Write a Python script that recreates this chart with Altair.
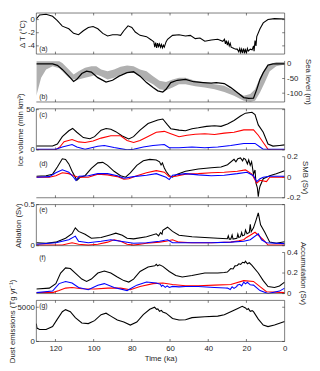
import altair as alt
import pandas as pd

# ---------------- data (time in ka) ----------------
dT = [(130, 0.1), (128.3, 0.7), (124.9, 0.8), (121.5, 0.5), (119, -0.15), (116.4, -1.0), (113, -1.4),
      (110.5, -2.1), (107.9, -2.3), (105.4, -1.7), (102.8, -1.2), (100.3, -1.05), (97.8, -1.4), (95.2, -2.1),
      (92.7, -2.5), (90.1, -2.3), (87.6, -2.3), (85.9, -2.4), (84.2, -1.7), (82, -0.95), (80, -1.2), (78.2, -1.9),
      (75.7, -2.4), (72.3, -2.6), (69.8, -3.1), (68.5, -3.4), (68, -4.2), (67.5, -3.5), (67, -4.3), (66.5, -3.6),
      (66, -4.1), (65.5, -3.7), (65, -4.2), (64.5, -3.8), (64, -4.3), (63.5, -3.9), (63, -4.2), (62.1, -3.4),
      (61.3, -3.0), (58.7, -2.4), (55.3, -2.3), (51.9, -2.5), (49.4, -2.4), (46.8, -2.9), (44.3, -2.8),
      (41.8, -3.3), (38.4, -3.1), (35, -3.0), (32.4, -3.3), (31.5, -3.0), (31, -3.7), (30.5, -3.2), (30, -3.9),
      (29.5, -3.4), (29, -4.0), (28.5, -3.6), (28, -4.2), (27.3, -4.3), (26.5, -4.4), (25.5, -4.5), (24.8, -4.5),
      (24, -4.9), (23.5, -4.4), (23, -5.0), (22.5, -4.5), (22, -5.1), (21.5, -4.4), (21, -5.0), (20.5, -4.6),
      (20, -5.1), (19.5, -4.4), (19, -4.8), (18, -4.5), (17, -4.6), (16.3, -4.0), (16, -4.8), (15.5, -3.2),
      (15, -4.0), (14.6, -2.6), (12.9, -1.4), (11.2, -0.5), (8.7, 0.0), (5.3, 0.15), (0, 0.1)]

sl_model = [(130, 0), (121.5, 0), (119, -5), (116.4, -19), (113, -42), (110.5, -60), (108.8, -53), (106.2, -33),
            (103.7, -25), (101.2, -28), (97.8, -47), (93.5, -62), (90.1, -56), (86.7, -42), (82.5, -30),
            (79.1, -27), (75.7, -42), (72.3, -64), (68.9, -81), (66.4, -92), (63.8, -96), (62.1, -87),
            (59.6, -64), (56.2, -56), (51.9, -53), (47.7, -61), (42.6, -64), (38.4, -66), (35.8, -64),
            (31.6, -67), (28.2, -81), (24.8, -98), (21.4, -115), (18.8, -118), (16.3, -117), (14.6, -87),
            (12.9, -53), (11.2, -30), (8.7, -4.5), (6.1, 0), (0, 0)]

sl_band = [(130, 9, -109), (127.5, 9, -47), (124.9, 9, -19), (121.5, 9, -8), (118, 9, -15), (116.4, 3, -25),
           (113, -19, -47), (110.5, -36, -53), (107.9, -25, -53), (104.5, -13, -47), (101.2, -8, -42),
           (98.6, -8, -36), (96.1, -19, -42), (92.7, -25, -53), (89.3, -19, -47), (85.9, -10, -36),
           (82.5, -6, -30), (79.1, -8, -30), (75.7, -19, -44), (72.3, -25, -58), (68.9, -42, -70),
           (65.5, -58, -87), (62.1, -62, -90), (58.7, -53, -81), (55.3, -47, -70), (51.9, -47, -70),
           (46.8, -58, -76), (41.8, -64, -81), (36.7, -70, -87), (31.6, -75, -96), (26.5, -92, -109),
           (21.4, -109, -126), (18, -103, -129), (15.5, -87, -126), (12.9, -47, -98), (10.4, -19, -64),
           (7.8, -2, -25), (4.4, 6, -8), (0, 6, -2)]

ice_total = [(130, 4.7), (121.5, 4.7), (119, 7.3), (116.4, 16.4), (113, 23.7), (111, 26.6), (108.8, 21.9),
             (105.4, 15.3), (102, 13.9), (99.5, 16.4), (96.1, 24.5), (93.5, 26.6), (91, 25.5), (88.4, 22.6),
             (85, 17.2), (81.6, 13.5), (79.1, 16.4), (75.7, 24.5), (71.5, 32.8), (66.4, 37.2), (63.8, 38.3),
             (61.3, 31), (59.6, 26.3), (55.3, 24.5), (51.9, 23.7), (48.5, 26.3), (45.2, 27.4), (40.9, 29.2),
             (36.7, 29.9), (33.3, 29.2), (29.9, 32.1), (26.5, 36.5), (23.1, 42), (20.5, 45.6), (17.1, 46.7),
             (15.5, 43.8), (13.8, 31), (11.2, 21.9), (8.7, 7.3), (6.1, 4.7), (2.7, 5.5), (0, 6.2)]
ice_red = [(130, 0), (120, 0), (117.7, 3.6), (115.5, 10.2), (111.3, 12.8), (107.9, 9.9), (104.5, 9.1),
           (100.3, 10.9), (96.1, 14.6), (91, 17.5), (85.9, 17.5), (82.5, 11.7), (79.1, 9.1), (75.7, 11.7),
           (72.3, 15.7), (67.2, 21.9), (63, 23), (59.6, 20), (55.3, 16.4), (51.1, 18.2), (46.8, 19.3),
           (41.8, 20), (36.7, 19), (31.6, 20.8), (26.5, 21.9), (21.4, 24.8), (16.3, 24.8), (13.8, 18.2),
           (11.2, 9.1), (8.7, 0.7), (7, 0), (0, 0)]
ice_blue = [(130, 0.7), (119.8, 0.7), (116.4, 3.6), (111.3, 6.6), (108.8, 3.6), (104.5, 0.7), (97.8, 4.4),
            (94.4, 5.5), (89.3, 2.9), (82.5, 0), (79.1, 0.7), (74, 3.6), (68.9, 5.5), (63, 6.6), (60.4, 2.6),
            (55.3, 2.6), (48.5, 3.6), (41.8, 2.6), (35, 3.6), (28.2, 5.5), (21.4, 8), (15.5, 8), (12.9, 3.6),
            (11.2, 0.7), (0, 0.7)]

smb_black = [(130, 0.01), (124.9, 0.015), (121.5, 0.03), (119, 0.1), (116.4, 0.18), (114.7, 0.174),
             (113, 0.13), (111.3, 0.058), (109.6, 0), (108.8, -0.03), (107.1, 0), (104.5, 0.015),
             (101.2, 0.087), (97.8, 0.14), (95.2, 0.145), (92.7, 0.116), (89.3, 0.058), (85.9, 0.015),
             (83.3, 0), (80.8, 0.043), (77.4, 0.116), (74, 0.16), (70.6, 0.174), (67.2, 0.168), (65.5, 0.15),
             (64.7, 0.12), (64, 0.14), (63, 0.09), (62.1, 0.058), (60.4, 0.015), (58.7, 0), (56.2, 0.03),
             (51.9, 0.058), (45.2, 0.081), (38.4, 0.093), (33.3, 0.1), (29.9, 0.122), (26.5, 0.174),
             (25.5, 0.15), (24.5, 0.18), (23.1, 0.188), (22, 0.16), (21.4, 0.185), (20.5, 0.174), (19.5, 0.13),
             (18.8, 0.17), (18, 0.116), (17.3, 0.15), (16.3, 0.03), (15.5, 0.07), (15, -0.058), (14.3, -0.1),
             (13.8, -0.19), (13.3, -0.12), (12.9, -0.087), (11.2, -0.014), (7.8, 0.015), (4.4, 0.035),
             (0, 0.064)]
smb_red = [(130, 0), (123.2, 0), (119.8, 0.015), (116.4, 0.043), (113, 0.035), (110.5, 0.015), (107.9, 0),
           (102.8, 0), (97.8, 0.03), (92.7, 0.023), (87.6, 0.006), (84.2, -0.02), (81.6, -0.014),
           (77.4, 0.015), (72.3, 0.043), (67.2, 0.064), (63, 0.049), (60.4, 0.006), (57, 0.009),
           (51.9, 0.03), (45.2, 0.035), (38.4, 0.043), (31.6, 0.049), (24.8, 0.058), (20.5, 0.072),
           (17.1, 0.03), (14.6, -0.058), (12.9, -0.03), (9.5, -0.043), (7.8, 0), (0, 0)]
smb_blue = [(130, 0), (123.2, 0.006), (119.8, 0.043), (116.4, 0.072), (113, 0.049), (110.5, 0),
            (109.3, -0.03), (107.6, 0.009), (102.8, 0.015), (97.8, 0.035), (92.7, 0.035), (87.6, 0.015),
            (84.2, -0.009), (79.1, 0.006), (72.3, 0.02), (67.2, 0.035), (62.1, 0), (60.4, -0.023),
            (58.7, 0.02), (51.9, 0.035), (45.2, 0.023), (38.4, 0.015), (31.6, 0.02), (24.8, 0.035),
            (19.7, 0.049), (16.3, 0.015), (14.6, -0.043), (12.9, -0.014), (11.2, 0), (7.8, 0.009), (0, 0.009)]

abl_black = [(130, 0.036), (124.9, 0.029), (119.8, 0.043), (114.7, 0.09), (111.3, 0.145), (109.6, 0.217),
             (107.9, 0.174), (104.5, 0.138), (101.2, 0.09), (96.1, 0.1), (91, 0.134), (88.4, 0.152),
             (85, 0.127), (82.5, 0.09), (79.1, 0.083), (72.3, 0.109), (67.2, 0.145), (66, 0.12), (65, 0.16),
             (64.2, 0.14), (63.8, 0.188), (61.3, 0.225), (58.7, 0.174), (55.3, 0.127), (48.5, 0.109),
             (41.8, 0.1), (35, 0.09), (30, 0.085), (29.5, 0.12), (29, 0.08), (28.2, 0.08), (27.5, 0.13),
             (27, 0.08), (25, 0.09), (24.5, 0.14), (24, 0.1), (23.1, 0.109), (22.5, 0.16), (22, 0.12),
             (21, 0.13), (20.5, 0.19), (19.7, 0.145), (18.5, 0.16), (18, 0.26), (17.5, 0.17), (16.3, 0.217),
             (15, 0.308), (13.8, 0.4), (12.6, 0.254), (10.4, 0.163), (7.8, 0.043), (4.4, 0.029), (0, 0.047)]
abl_red = [(130, 0.007), (116.4, 0.007), (111.3, 0.036), (107.9, 0.018), (102.8, 0.007), (97.8, 0.018),
           (92.7, 0.043), (89.3, 0.072), (85.9, 0.054), (82.5, 0.018), (79.1, 0.007), (72.3, 0.029),
           (65.5, 0.043), (62.1, 0.054), (58.7, 0.072), (55.3, 0.043), (48.5, 0.036), (38.4, 0.036),
           (28.2, 0.043), (24, 0.06), (21.4, 0.072), (20, 0.1), (18, 0.127), (15.5, 0.163), (13.8, 0.127),
           (11.2, 0.072), (8.7, 0.007), (0, 0.007)]
abl_blue = [(130, 0.018), (119.8, 0.036), (113, 0.072), (109.6, 0.116), (107.9, 0.054), (102.8, 0.036),
            (96.1, 0.054), (91, 0.072), (85.9, 0.054), (79.1, 0.029), (72.3, 0.036), (65.5, 0.054),
            (61.3, 0.072), (58.7, 0.036), (48.5, 0.036), (38.4, 0.036), (28.2, 0.043), (21.4, 0.054),
            (18, 0.072), (13.8, 0.145), (12.1, 0.072), (9.5, 0.036), (0, 0.025)]

acc_black = [(130, 0.044), (123.2, 0.053), (119.8, 0.097), (117.3, 0.2), (114.7, 0.25), (112.2, 0.244),
             (109.6, 0.2), (106.2, 0.141), (103.7, 0.118), (101.2, 0.141), (97.8, 0.2), (94.4, 0.22),
             (91, 0.2), (87.6, 0.162), (84.2, 0.126), (81.6, 0.112), (79.1, 0.141), (75.7, 0.215),
             (71.5, 0.259), (68, 0.27), (67.2, 0.285), (66.5, 0.27), (65.5, 0.28), (63.8, 0.265),
             (60.4, 0.215), (57, 0.176), (53.6, 0.162), (48.5, 0.176), (41.8, 0.2), (35, 0.2), (31.6, 0.206),
             (30, 0.21), (28.2, 0.244), (27, 0.24), (26, 0.27), (24.8, 0.274), (24, 0.29), (23, 0.285),
             (22, 0.305), (21, 0.3), (20.5, 0.315), (19.5, 0.29), (18.5, 0.3), (17.1, 0.274), (13.8, 0.2),
             (11.2, 0.126), (8.7, 0.068), (5.3, 0.059), (2.7, 0.074), (0, 0.112)]
acc_red = [(130, 0.009), (121.5, 0.009), (118.1, 0.029), (114.7, 0.053), (111.3, 0.059), (106.2, 0.047),
           (99.5, 0.044), (92.7, 0.053), (85.9, 0.053), (80.8, 0.038), (75.7, 0.068), (68.9, 0.097),
           (63.8, 0.103), (58.7, 0.088), (51.9, 0.076), (45.2, 0.076), (36.7, 0.082), (28.2, 0.088),
           (21.4, 0.126), (16.3, 0.118), (12.9, 0.068), (9.5, 0.018), (0, 0.009)]
acc_blue = [(130, 0.009), (121.5, 0.024), (118.1, 0.097), (114.7, 0.118), (111.3, 0.103), (107.9, 0.059),
            (102.8, 0.038), (97.8, 0.082), (94.4, 0.097), (89.3, 0.059), (82.5, 0.029), (77.4, 0.082),
            (72.3, 0.112), (67.2, 0.103), (65, 0.09), (64.5, 0.07), (63.8, 0.082), (62.5, 0.06),
            (61.5, 0.075), (60.4, 0.059), (58.7, 0.07), (55.3, 0.065), (51.9, 0.068), (45.2, 0.068),
            (36.7, 0.059), (31, 0.055), (29.9, 0.053), (28.5, 0.04), (27.5, 0.065), (26.5, 0.05), (25, 0.07),
            (24.8, 0.082), (23.5, 0.09), (22.5, 0.075), (21.4, 0.112), (20.5, 0.095), (19.5, 0.11),
            (18, 0.085), (16.3, 0.082), (12.9, 0.029), (8.7, 0), (2.7, 0.024), (0, 0.053)]

dust = [(130, 2600), (129.7, 1960), (128.3, 1740), (124.9, 1740), (121.5, 2175), (119, 3260), (116.4, 4350),
        (114.7, 4650), (112.2, 4350), (109.6, 3480), (106.2, 2700), (102.8, 2610), (99.5, 3045), (96.1, 3915),
        (93.5, 4130), (91, 3700), (87.6, 3130), (84.2, 2830), (80.8, 2390), (77.4, 2830), (74, 3915),
        (70.6, 4700), (68.1, 5000), (67, 4700), (66.4, 4750), (65.5, 4400), (64.5, 4550), (63.8, 4300),
        (62.1, 4130), (58.7, 3350), (55.3, 3130), (51.9, 3175), (48.5, 3480), (41.8, 3610), (35, 3700),
        (31.6, 3915), (28.2, 4350), (24.8, 4785), (22.2, 5130), (20.5, 4900), (19.7, 4650), (19, 4800),
        (18, 4400), (17, 4500), (16.3, 4350), (13.8, 3260), (11.2, 2390), (8.7, 2175), (5.3, 2390),
        (0, 2910)]

x_ticks = [120, 100, 80, 60, 40, 20]
x_labels = [120, 100, 80, 60, 40, 20, 0]

# ---------------- styling ----------------
W, H = 254, 42
AX = "#262626"
FONT = "Liberation Sans"
XS = alt.Scale(domain=[0, 130], reverse=True, nice=False, zero=False)
DUMMY = pd.DataFrame({"a": [0]})


def yscale(lo, hi):
    return alt.Scale(domain=[lo, hi], nice=False, zero=False)


def xenc(field, show):
    if show:
        return alt.X(field, scale=XS)
    return alt.X(field, scale=XS, axis=None)


def series(pairs, color, ys, show_x=False, width=1.1):
    df = pd.DataFrame(pairs, columns=["t", "v"])
    return alt.Chart(df).mark_line(color=color, strokeWidth=width, clip=True).encode(
        x=xenc("t:Q", show_x),
        y=alt.Y("v:Q", scale=ys),
    )


def y_axis_layers(vals, ys, side, title, mirror):
    df = pd.DataFrame({"v": vals})
    ax = alt.Axis(orient=side, values=vals, tickCount=10, title=title, ticks=False, domain=False, grid=False,
                  labelExpr="'' + datum.value", labelPadding=2, titlePadding=1,
                  labelOverlap=False, labelFlush=False)
    layers = []
    x0, x1 = (0, 2.5) if side == "left" else (W, W - 2.5)
    layers.append(alt.Chart(df).mark_rule(color=AX, strokeWidth=0.6).encode(
        y=alt.Y("v:Q", scale=ys, axis=ax), x=alt.value(x0), x2=alt.value(x1)))
    if mirror:
        m0, m1 = (W, W - 2.5) if side == "left" else (0, 2.5)
        layers.append(alt.Chart(df).mark_rule(color=AX, strokeWidth=0.6).encode(
            y=alt.Y("v:Q", scale=ys), x=alt.value(m0), x2=alt.value(m1)))
    return layers


def x_tick_layers(top, bottom_axis=False):
    df = pd.DataFrame({"t": x_ticks})
    layers = []
    if bottom_axis:
        xax = alt.X("t:Q", scale=XS, axis=alt.Axis(values=x_labels, tickCount=20, title="Time (ka)",
                                                   ticks=False, domain=False, grid=False, labelPadding=3,
                                                   titlePadding=2, labelOverlap=False,
                                                   labelFlush=False))
    else:
        xax = alt.X("t:Q", scale=XS, axis=None)
    layers.append(alt.Chart(df).mark_rule(color=AX, strokeWidth=0.6).encode(
        x=xax, y=alt.value(H), y2=alt.value(H - 2.5)))
    if top:
        layers.append(alt.Chart(df).mark_rule(color=AX, strokeWidth=0.6).encode(
            x=xenc("t:Q", bottom_axis), y=alt.value(0), y2=alt.value(2.5)))
    return layers


def frame(sides):
    base = alt.Chart(DUMMY).mark_rule(color=AX, strokeWidth=0.6)
    out = []
    if "top" in sides:
        out.append(base.encode(x=alt.value(0), x2=alt.value(W), y=alt.value(0)))
    if "bottom" in sides:
        out.append(base.encode(x=alt.value(0), x2=alt.value(W), y=alt.value(H)))
    if "left" in sides:
        out.append(base.encode(y=alt.value(0), y2=alt.value(H), x=alt.value(0)))
    if "right" in sides:
        out.append(base.encode(y=alt.value(0), y2=alt.value(H), x=alt.value(W)))
    return out


def tag(text, ypos):
    return alt.Chart(DUMMY).mark_text(align="left", baseline="middle", fontSize=7, font=FONT,
                                      color=AX).encode(x=alt.value(3), y=alt.value(ypos),
                                                       text=alt.value(text))


BOX = ["top", "bottom", "left", "right"]
OPEN = ["bottom", "right"]

# (a) temperature
sa = yscale(-5.25, 1)
pa = alt.layer(*y_axis_layers([-4, -2, 0], sa, "left", "Δ T (°C)", True), *x_tick_layers(True),
               series(dT, "black", sa), *frame(BOX), tag("(a)", H - 5)).properties(width=W, height=H)

# (b) sea level
sb = yscale(-130, 10)
band_df = pd.DataFrame(sl_band, columns=["t", "hi", "lo"])
band = alt.Chart(band_df).mark_area(color="#b0b0b0", opacity=1, clip=True).encode(
    x=xenc("t:Q", False), y=alt.Y("hi:Q", scale=sb), y2="lo:Q")
pb = alt.layer(*y_axis_layers([-100, -50, 0], sb, "right", "Sea level (m)", False), band,
               series(sl_model, "black", sb, width=1.3), *x_tick_layers(False), *frame(OPEN),
               tag("(b)", H - 5)).properties(width=W, height=H)

# (c) ice volume
sc = yscale(0, 51)
pc = alt.layer(*y_axis_layers([0, 50], sc, "left", "Ice volume (mln km³)", True), *x_tick_layers(True),
               series(ice_total, "black", sc), series(ice_red, "#ff0000", sc), series(ice_blue, "#0000ff", sc),
               *frame(BOX), tag("(c)", 6)).properties(width=W, height=H)

# (d) SMB
sd = yscale(-0.2, 0.2)
pd_ = alt.layer(*y_axis_layers([-0.2, 0, 0.2], sd, "right", "SMB (Sv)", False), *x_tick_layers(False),
                series(smb_black, "black", sd), series(smb_red, "#ff0000", sd), series(smb_blue, "#0000ff", sd),
                *frame(OPEN), tag("(d)", 8)).properties(width=W, height=H)

# (e) ablation
se = yscale(0, 0.5)
pe = alt.layer(*y_axis_layers([0, 0.5], se, "left", "Ablation (Sv)", True), *x_tick_layers(True),
               series(abl_black, "black", se), series(abl_red, "#ff0000", se), series(abl_blue, "#0000ff", se),
               *frame(BOX), tag("(e)", 6)).properties(width=W, height=H)

# (f) accumulation
sf = yscale(0, 0.4)
pf = alt.layer(*y_axis_layers([0, 0.2, 0.4], sf, "right", "Accumulation (Sv)", False), *x_tick_layers(False),
               series(acc_black, "black", sf), series(acc_red, "#ff0000", sf), series(acc_blue, "#0000ff", sf),
               *frame(OPEN), tag("(f)", 6)).properties(width=W, height=H)

# (g) dust
sg = yscale(0, 6000)
pg = alt.layer(*y_axis_layers([0, 5000], sg, "left", "Dust emissions (Tg yr⁻¹)", True),
               *x_tick_layers(True, bottom_axis=True), series(dust, "black", sg, show_x=True),
               *frame(BOX), tag("(g)", 6)).properties(width=W, height=H)

chart = alt.vconcat(pa, pb, pc, pd_, pe, pf, pg, spacing=7, bounds="flush").properties(
    padding=0
).configure_view(stroke=None).configure_axis(
    labelFont=FONT, titleFont=FONT, labelFontSize=8, titleFontSize=8, labelColor=AX, titleColor=AX,
    titleFontWeight="normal"
)

chart.save("out.html", embed_options={"renderer": "svg", "actions": False})
